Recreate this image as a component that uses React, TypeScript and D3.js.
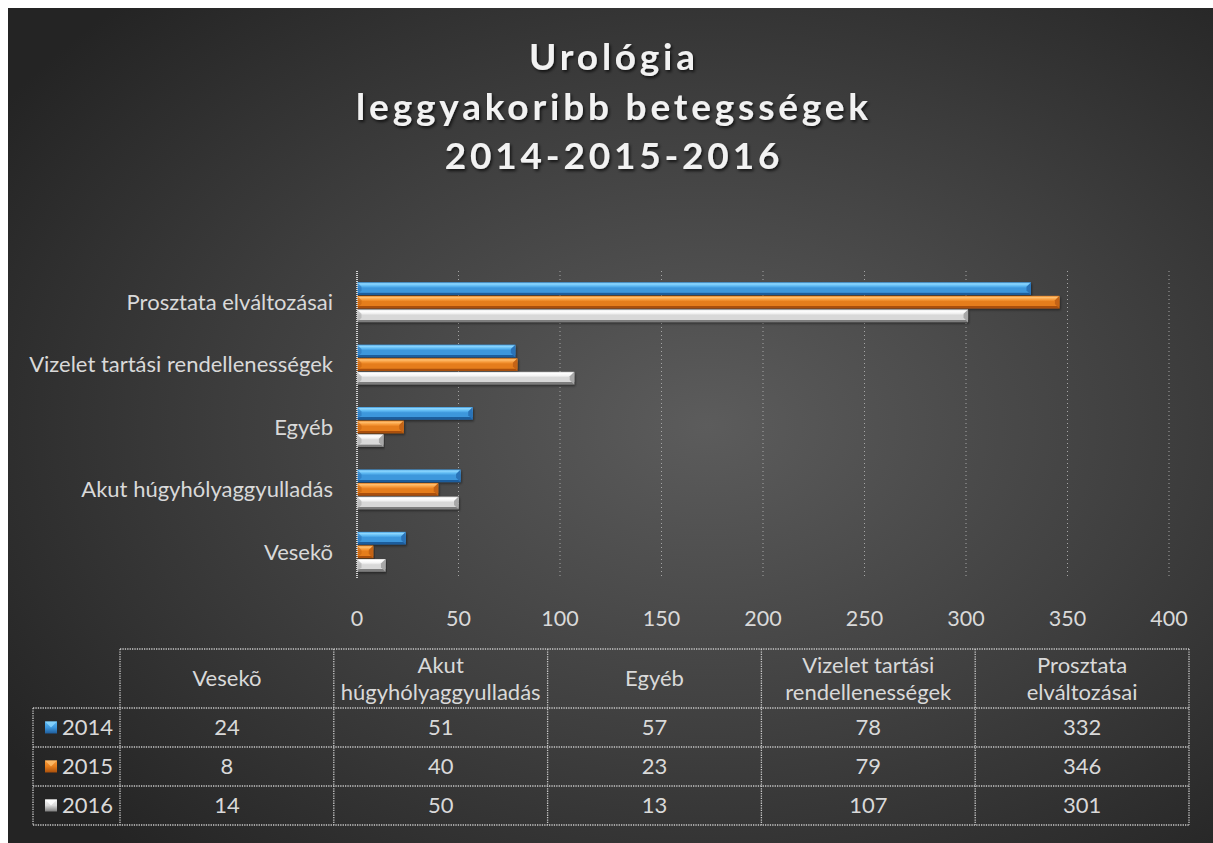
import React from "react";
import * as d3 from "d3";

const categories = ["Vesekõ", "Akut húgyhólyaggyulladás", "Egyéb", "Vizelet tartási rendellenességek", "Prosztata elváltozásai"];
const headerLabels = [["Vesekõ"], ["Akut", "húgyhólyaggyulladás"], ["Egyéb"], ["Vizelet tartási", "rendellenességek"], ["Prosztata", "elváltozásai"]];
const seriesNames = ["2014", "2015", "2016"];
const values2014 = [24, 51, 57, 78, 332];
const values2015 = [8, 40, 23, 79, 346];
const values2016 = [14, 50, 13, 107, 301];
const xTicks = [0, 50, 100, 150, 200, 250, 300, 350, 400];
const titleLines = ["Urológia", "leggyakoribb betegsségek", "2014-2015-2016"];

const seriesValues = [values2014, values2015, values2016];
const palettes = [
  { id: "b", top: "#8fd8ff", light: "#5cb8f2", mid: "#3d97dc", dark: "#1f5d9c", end: "#2a73b8" },
  { id: "o", top: "#ffc070", light: "#f79a3a", mid: "#e57d1c", dark: "#a9500c", end: "#c46414" },
  { id: "g", top: "#ffffff", light: "#f4f4f4", mid: "#d8d8d8", dark: "#7d7d7d", end: "#a8a8a8" },
];

const FONT = "Lato, 'Open Sans', sans-serif";
const W = 1205;
const H = 835;
const OX = 8; // svg offset from page

export default function App() {
  const x = d3.scaleLinear().domain([0, 400]).range([357 - OX, 1169 - OX]);
  const plotTop = 271 - OX;
  const plotBottom = 583 - OX;
  const catOrder = categories.map((_, i) => i).reverse();
  const y = d3.scaleBand<number>().domain(catOrder).range([plotTop, plotBottom]).paddingInner(0.36).paddingOuter(0.18);
  const ySeries = d3.scaleBand<number>().domain([0, 1, 2]).range([0, y.bandwidth()]).paddingInner(0.06);

  const colX = d3.range(6).map((i) => 120 - OX + i * ((1189 - 120) / 5));
  const tableLeft = 33 - OX;
  const headerTop = 649 - OX;
  const rowTops = [708, 747, 786, 825].map((v) => v - OX);
  const textColor = "#d9d9d9";
  const fs = 22;
  const borderStyle = { stroke: "#c8c8c8", strokeWidth: 1.3, strokeDasharray: "1.3,1.1" };

  return (
    <div style={{ position: "fixed", inset: 0, overflow: "hidden", background: "#fff" }}>
      <svg width={W} height={H} style={{ position: "absolute", left: OX, top: OX, display: "block" }} fontFamily={FONT}>
        <defs>
          <radialGradient id="bg" cx="0.58" cy="0.5" r="0.7" gradientUnits="objectBoundingBox">
            <stop offset="0" stopColor="#5c5c5c" />
            <stop offset="0.55" stopColor="#3e3e3e" />
            <stop offset="1" stopColor="#242424" />
          </radialGradient>
          {palettes.map((p) => (
            <linearGradient key={p.id} id={"bar" + p.id} x1="0" y1="0" x2="0" y2="1">
              <stop offset="0" stopColor={p.mid} />
              <stop offset="0.12" stopColor={p.top} />
              <stop offset="0.3" stopColor={p.light} />
              <stop offset="0.45" stopColor={p.mid} />
              <stop offset="0.8" stopColor={p.mid} />
              <stop offset="0.82" stopColor={p.dark} />
              <stop offset="1" stopColor={p.dark} />
            </linearGradient>
          ))}
          {palettes.map((p) => (
            <linearGradient key={p.id} id={"key" + p.id} x1="0" y1="0" x2="0" y2="1">
              <stop offset="0" stopColor={p.light} />
              <stop offset="0.5" stopColor={p.mid} />
              <stop offset="1" stopColor={p.dark} />
            </linearGradient>
          ))}
          <filter id="tshadow" x="-10%" y="-30%" width="120%" height="160%">
            <feDropShadow dx="1.5" dy="2" stdDeviation="1.5" floodColor="#000" floodOpacity="0.7" />
          </filter>
          <filter id="bshadow" x="-5%" y="-30%" width="110%" height="180%">
            <feDropShadow dx="1" dy="1.5" stdDeviation="1" floodColor="#000" floodOpacity="0.45" />
          </filter>
        </defs>
        <rect x={0} y={0} width={W} height={H} fill="url(#bg)" />

        {/* Title */}
        <g filter="url(#tshadow)">
          {titleLines.map((t, i) => (
            <text key={i} x={614 - OX} y={70 - OX + i * 49.5} textAnchor="middle" fontSize={37} fontWeight={700} letterSpacing={3.8} fill="#f2f2f2">
              {t}
            </text>
          ))}
        </g>

        {/* Gridlines */}
        {xTicks.slice(1).map((t) => (
          <line key={t} x1={x(t)} x2={x(t)} y1={plotTop} y2={plotBottom - 5} stroke="#a6a6a6" strokeWidth={1} strokeDasharray="1,3" />
        ))}

        {/* Bars */}
        {catOrder.map((ci) =>
          seriesValues.map((vals, si) => {
            const p = palettes[si];
            const y0 = (y(ci) as number) + (ySeries(si) as number);
            const h = ySeries.bandwidth();
            const x0 = x(0);
            const x1 = x(vals[ci]);
            const bev = Math.min(h * 0.35, (x1 - x0) / 2);
            return (
              <g key={ci + "-" + si} filter="url(#bshadow)">
                <rect x={x0} y={y0} width={x1 - x0} height={h} fill={`url(#bar${p.id})`} />
                <polygon points={`${x1 - bev},${y0 + bev} ${x1},${y0} ${x1},${y0 + h} ${x1 - bev},${y0 + h - bev}`} fill={p.end} />
                <polygon points={`${x0},${y0} ${x0 + bev},${y0 + bev} ${x0 + bev},${y0 + h - bev} ${x0},${y0 + h}`} fill={p.end} opacity={0.6} />
              </g>
            );
          })
        )}

        {/* Axis line */}
        <line x1={x(0)} x2={x(0)} y1={plotTop} y2={plotBottom - 5} stroke="#d0d0d0" strokeWidth={2} strokeDasharray="1,1" />

        {/* Category labels */}
        {catOrder.map((ci) => (
          <text key={ci} x={333 - OX} y={(y(ci) as number) + y.bandwidth() / 2} dy="0.35em" textAnchor="end" fontSize={fs} fill={textColor}>
            {categories[ci]}
          </text>
        ))}

        {/* X tick labels */}
        {xTicks.map((t) => (
          <text key={t} x={x(t)} y={618 - OX} dy="0.35em" textAnchor="middle" fontSize={21.5} fill={textColor}>
            {t}
          </text>
        ))}

        {/* Data table */}
        <g>
          <line x1={colX[0]} x2={colX[5]} y1={headerTop} y2={headerTop} style={borderStyle} />
          {rowTops.map((ry, i) => (
            <line key={i} x1={tableLeft} x2={colX[5]} y1={ry} y2={ry} style={borderStyle} />
          ))}
          {colX.map((cx, i) => (
            <line key={i} x1={cx} x2={cx} y1={headerTop} y2={rowTops[3]} style={borderStyle} />
          ))}
          <line x1={tableLeft} x2={tableLeft} y1={rowTops[0]} y2={rowTops[3]} style={borderStyle} />

          {headerLabels.map((lines, ci) => {
            const cx = (colX[ci] + colX[ci + 1]) / 2;
            const cy = (headerTop + rowTops[0]) / 2;
            return (
              <text key={ci} x={cx} textAnchor="middle" fontSize={fs} fill={textColor}>
                {lines.map((l, li) => (
                  <tspan key={li} x={cx} y={cy + (li - (lines.length - 1) / 2) * 27} dy="0.35em">
                    {l}
                  </tspan>
                ))}
              </text>
            );
          })}

          {seriesValues.map((vals, si) => {
            const cy = (rowTops[si] + rowTops[si + 1]) / 2;
            const p = palettes[si];
            return (
              <g key={si}>
                <rect x={45 - OX} y={cy - 6} width={12} height={12} fill={`url(#key${p.id})`} />
                <polygon points={`${45 - OX},${cy - 6} ${57 - OX},${cy - 6} ${51 - OX},${cy}`} fill={p.top} opacity={0.8} />
                <text x={62 - OX} y={cy} dy="0.35em" fontSize={fs} fill={textColor}>
                  {seriesNames[si]}
                </text>
                {vals.map((v, ci) => (
                  <text key={ci} x={(colX[ci] + colX[ci + 1]) / 2} y={cy} dy="0.35em" textAnchor="middle" fontSize={fs} fill={textColor}>
                    {v}
                  </text>
                ))}
              </g>
            );
          })}
        </g>
      </svg>
    </div>
  );
}
